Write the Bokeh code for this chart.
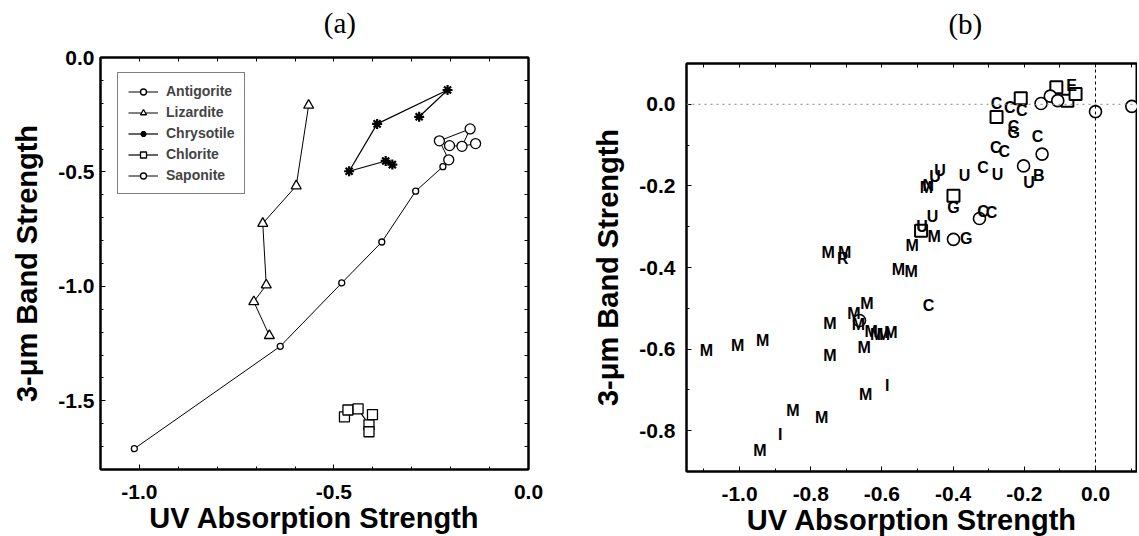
import numpy as np
from bokeh.plotting import figure
from bokeh.layouts import row, column
from bokeh.models import (Range1d, FixedTicker, NumeralTickFormatter, LinearAxis,
                          Span, Legend, LegendItem)
from bokeh.core.properties import value
from bokeh.embed import file_html
from bokeh.resources import INLINE

# ---------------- Panel (a) data ----------------
antigorite_x = [-0.205, -0.229, -0.150, -0.171, -0.203, -0.136]
antigorite_y = [-0.447, -0.364, -0.312, -0.388, -0.385, -0.376]
lizardite_x = [-0.565, -0.597, -0.683, -0.674, -0.706, -0.666]
lizardite_y = [-0.209, -0.561, -0.725, -0.994, -1.067, -1.215]
chrysotile_x = [-0.281, -0.208, -0.389, -0.461, -0.367, -0.350]
chrysotile_y = [-0.259, -0.142, -0.290, -0.497, -0.452, -0.468]
chlorite_x = [-0.473, -0.464, -0.438, -0.410, -0.410, -0.401]
chlorite_y = [-1.570, -1.540, -1.535, -1.605, -1.635, -1.560]
saponite_x = [-1.013, -0.638, -0.480, -0.377, -0.290, -0.220]
saponite_y = [-1.709, -1.262, -0.985, -0.806, -0.584, -0.477]

a_xticks = [-1.0, -0.5, 0.0]
a_yticks = [0.0, -0.5, -1.0, -1.5]

# ---------------- Panel (b) data ----------------
b_square_x = [-0.110, -0.079, -0.056, -0.210, -0.278, -0.399, -0.490]
b_square_y = [0.042, 0.009, 0.025, 0.015, -0.031, -0.224, -0.310]
b_circle_x = [-0.153, -0.127, -0.106, 0.0, 0.102, -0.150, -0.202, -0.326, -0.399, -0.663]
b_circle_y = [0.002, 0.020, 0.009, -0.018, -0.005, -0.122, -0.151, -0.280, -0.331, -0.530]
b_m_x = [-0.475, -0.453, -0.515, -0.554, -0.518, -0.751, -0.705, -0.642, -0.679, -0.666,
         -0.630, -0.615, -0.596, -0.575, -0.746, -0.746, -0.650, -0.646, -1.093, -1.005,
         -0.935, -0.850, -0.769, -0.943]
b_m_y = [-0.205, -0.325, -0.346, -0.404, -0.410, -0.364, -0.364, -0.488, -0.513, -0.540,
         -0.556, -0.565, -0.563, -0.559, -0.538, -0.616, -0.597, -0.711, -0.603, -0.591,
         -0.580, -0.750, -0.768, -0.848]
b_let_text = ["C", "C", "C", "C", "C", "C", "C", "C", "C", "C", "C",
              "G", "G", "G",
              "U", "U", "U", "U", "U", "U", "U",
              "B", "E", "N", "R", "I", "I"]
b_let_x = [-0.278, -0.241, -0.207, -0.230, -0.163, -0.280, -0.256, -0.316, -0.316, -0.292, -0.469,
           -0.230, -0.399, -0.363,
           -0.437, -0.451, -0.368, -0.275, -0.187, -0.458, -0.487,
           -0.159, -0.067, -0.470, -0.710, -0.585, -0.886]
b_let_y = [0.003, -0.009, -0.016, -0.054, -0.079, -0.105, -0.115, -0.156, -0.262, -0.266, -0.494,
           -0.068, -0.254, -0.328,
           -0.162, -0.178, -0.174, -0.172, -0.191, -0.276, -0.300,
           -0.174, 0.045, -0.200, -0.378, -0.689, -0.810]

b_xticks = [-1.0, -0.8, -0.6, -0.4, -0.2, 0.0]
b_yticks = [0.0, -0.2, -0.4, -0.6, -0.8]

panel_titles = ["(a)", "(b)"]

FONT = "Liberation Sans"
SERIF = "Liberation Serif"

WA, WB = 558, 579      # total widths of the two panels
TH = 42                # height of the title strip above each panel


def style_axis(ax):
    ax.axis_line_width = 2
    ax.axis_line_color = "black"
    ax.major_tick_in = 5
    ax.major_tick_out = 0
    ax.minor_tick_in = 3
    ax.minor_tick_out = 0
    ax.major_tick_line_color = "black"
    ax.minor_tick_line_color = "black"
    ax.major_label_text_font = FONT
    ax.major_label_text_font_style = "bold"
    ax.major_label_text_font_size = "21px"
    ax.major_label_text_color = "black"
    ax.axis_label_text_font = FONT
    ax.axis_label_text_font_style = "bold"
    ax.axis_label_text_font_size = "29px"
    ax.axis_label_text_color = "black"


def tick_only_axis(minor):
    # frame-edge axis with inward ticks only (no labels)
    ax = LinearAxis(ticker=FixedTicker(ticks=[], minor_ticks=minor))
    ax.axis_line_width = 2
    ax.axis_line_color = "black"
    ax.major_tick_in = 0
    ax.major_tick_out = 0
    ax.minor_tick_in = 4
    ax.minor_tick_out = 0
    ax.minor_tick_line_color = "black"
    return ax


def title_strip(text, width, cx, cy):
    # a bare strip (no axes) carrying the panel title; cx, cy in strip pixels
    t = figure(width=width, height=TH, x_range=Range1d(0, width), y_range=Range1d(TH, 0),
               x_axis_type=None, y_axis_type=None, output_backend="svg",
               toolbar_location=None, min_border=0)
    t.outline_line_color = None
    t.grid.visible = False
    t.text([cx], [cy], text=[text], text_font=value(SERIF), text_font_size="29px",
           text_align="center", text_baseline="middle", text_color="black")
    return t


# ---------------- Figure (a) ----------------
pa = figure(frame_width=428, frame_height=412,
            x_range=Range1d(-1.1, 0.0), y_range=Range1d(-1.8, 0.0),
            output_backend="svg", toolbar_location=None,
            min_border_left=100, min_border_right=30, min_border_top=15, min_border_bottom=60)
pa.grid.visible = False
pa.outline_line_color = "black"
pa.outline_line_width = 2

xminor_a = list(np.round(np.arange(-1.1, 0.001, 0.1), 2))
yminor_a = list(np.round(np.arange(-1.8, 0.001, 0.1), 2))
pa.xaxis.ticker = FixedTicker(ticks=a_xticks, minor_ticks=xminor_a)
pa.yaxis.ticker = FixedTicker(ticks=a_yticks, minor_ticks=yminor_a)
pa.xaxis.formatter = NumeralTickFormatter(format="0.0")
pa.yaxis.formatter = NumeralTickFormatter(format="0.0")
pa.xaxis.axis_label = "UV Absorption Strength"
pa.yaxis.axis_label = "3-\u03bcm Band Strength"
style_axis(pa.xaxis[0])
style_axis(pa.yaxis[0])
pa.xaxis.major_label_standoff = 15
pa.yaxis.major_label_standoff = 6
pa.xaxis.axis_label_standoff = 0
pa.yaxis.axis_label_standoff = 12

pa.add_layout(tick_only_axis(xminor_a), "above")
pa.add_layout(tick_only_axis(yminor_a), "right")

mk = dict(fill_color="white", line_color="black", line_width=1.3)
# antigorite: path through the first five, plus a link between 4th and 6th
ant_l = pa.line(antigorite_x[:5], antigorite_y[:5], line_color="black", line_width=1)
pa.line([antigorite_x[3], antigorite_x[5]], [antigorite_y[3], antigorite_y[5]],
        line_color="black", line_width=1)
ant_s = pa.scatter(antigorite_x, antigorite_y, marker="circle", size=10, **mk)

liz_l = pa.line(lizardite_x, lizardite_y, line_color="black", line_width=1)
liz_s = pa.scatter(lizardite_x, lizardite_y, marker="triangle", size=10, **mk)

chr_l = pa.line(chrysotile_x, chrysotile_y, line_color="black", line_width=1.2)
chr_s = pa.scatter(chrysotile_x, chrysotile_y, marker="asterisk", size=10,
                   line_color="black", line_width=2.2)

chl_l = pa.line(chlorite_x, chlorite_y, line_color="black", line_width=1.2)
chl_s = pa.scatter(chlorite_x, chlorite_y, marker="square", size=10, **mk)

sap_l = pa.line(saponite_x, saponite_y, line_color="black", line_width=1)
sap_s = pa.scatter(saponite_x, saponite_y, marker="circle", size=6, **mk)

legend = Legend(items=[
    LegendItem(label="Antigorite", renderers=[ant_l, ant_s]),
    LegendItem(label="Lizardite", renderers=[liz_l, liz_s]),
    LegendItem(label="Chrysotile", renderers=[chr_l, chr_s]),
    LegendItem(label="Chlorite", renderers=[chl_l, chl_s]),
    LegendItem(label="Saponite", renderers=[sap_l, sap_s]),
], location=(17, 275))
legend.border_line_color = "black"
legend.border_line_width = 1.5
legend.background_fill_color = "white"
legend.background_fill_alpha = 1
legend.label_text_font = FONT
legend.label_text_font_style = "bold"
legend.label_text_font_size = "14px"
legend.glyph_width = 30
legend.glyph_height = 15
legend.label_height = 15
legend.spacing = 5
legend.padding = 10
legend.margin = 0
legend.label_standoff = 8
pa.add_layout(legend)

# ---------------- Figure (b) ----------------
pb = figure(frame_width=451, frame_height=408,
            x_range=Range1d(-1.149, 0.118), y_range=Range1d(-0.9, 0.1),
            output_backend="svg", toolbar_location=None,
            min_border_left=128, min_border_right=0, min_border_top=21, min_border_bottom=60)
pb.grid.visible = False
pb.outline_line_color = "black"
pb.outline_line_width = 2

xminor_b = list(np.round(np.arange(-1.1, 0.11, 0.1), 2))
yminor_b = list(np.round(np.arange(-0.9, 0.11, 0.1), 2))
pb.xaxis.ticker = FixedTicker(ticks=b_xticks, minor_ticks=xminor_b)
pb.yaxis.ticker = FixedTicker(ticks=b_yticks, minor_ticks=yminor_b)
pb.xaxis.formatter = NumeralTickFormatter(format="0.0")
pb.yaxis.formatter = NumeralTickFormatter(format="0.0")
pb.xaxis.axis_label = "UV Absorption Strength"
pb.yaxis.axis_label = "3-\u03bcm Band Strength"
style_axis(pb.xaxis[0])
style_axis(pb.yaxis[0])
pb.xaxis.major_label_standoff = 15
pb.yaxis.major_label_standoff = 11
pb.xaxis.axis_label_standoff = 0
pb.yaxis.axis_label_standoff = 12

pb.add_layout(tick_only_axis(xminor_b), "above")

pb.add_layout(Span(location=0, dimension="width", line_color="#888888",
                   line_dash="2 4", line_width=1))
pb.add_layout(Span(location=0, dimension="height", line_color="black",
                   line_dash="3 3", line_width=1))

pb.scatter(b_square_x, b_square_y, marker="square", size=12,
           fill_color="white", line_color="black", line_width=2)
pb.scatter(b_circle_x, b_circle_y, marker="circle", size=12,
           fill_color="white", line_color="black", line_width=1.6)
pb.text(b_m_x, b_m_y, text=["M"] * len(b_m_x), text_font=value(FONT),
        text_font_style="bold", text_font_size="16px", text_align="center",
        text_baseline="middle", text_color="black")
pb.text(b_let_x, b_let_y, text=b_let_text, text_font=value(FONT),
        text_font_style="bold", text_font_size="16px", text_align="center",
        text_baseline="middle", text_color="black")

ta = title_strip(panel_titles[0], WA, 312, 22)
tb = title_strip(panel_titles[1], WB, 358, 23)

layout = row(column(ta, pa), column(tb, pb))
open("out.html", "w").write(file_html(layout, INLINE))
